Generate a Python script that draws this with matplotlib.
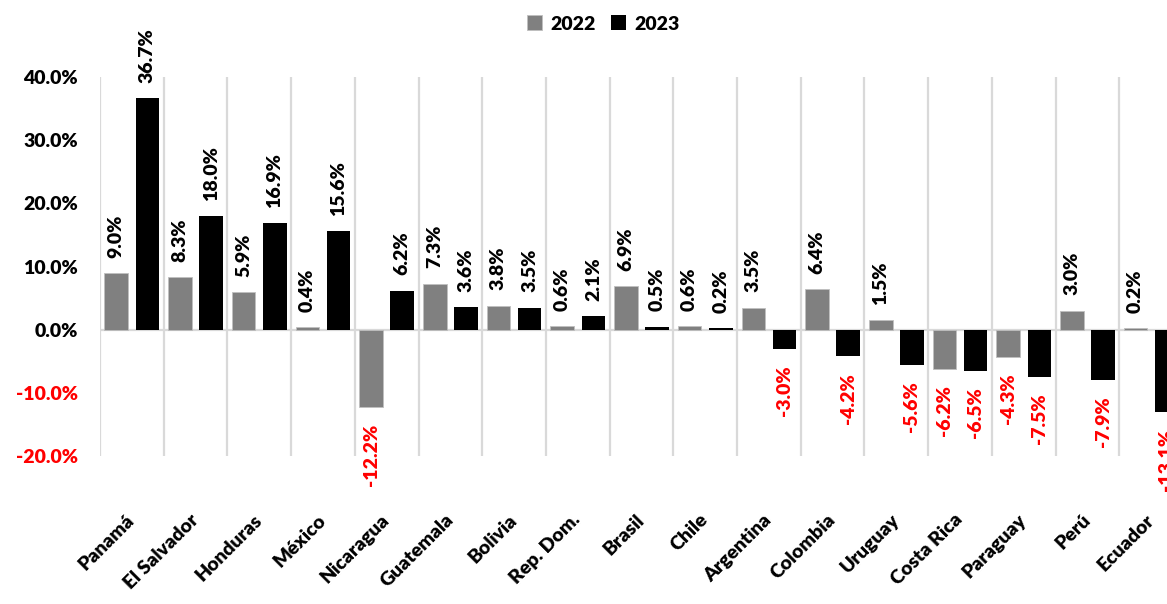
import matplotlib
matplotlib.use("Agg")
import matplotlib.pyplot as plt
import numpy as np
from matplotlib.ticker import FuncFormatter, FixedLocator

countries = ["Panamá", "El Salvador", "Honduras", "México", "Nicaragua", "Guatemala",
             "Bolivia", "Rep. Dom.", "Brasil", "Chile", "Argentina", "Colombia",
             "Uruguay", "Costa Rica", "Paraguay", "Perú", "Ecuador"]
v2022 = [9.0, 8.3, 5.9, 0.4, -12.2, 7.3, 3.8, 0.6, 6.9, 0.6, 3.5, 6.4, 1.5, -6.2, -4.3, 3.0, 0.2]
v2023 = [36.7, 18.0, 16.9, 15.6, 6.2, 3.6, 3.5, 2.1, 0.5, 0.2, -3.0, -4.2, -5.6, -6.5, -7.5, -7.9, -13.1]
series_names = ["2022", "2023"]
yticks = [-20, -10, 0, 10, 20, 30, 40]

plt.rcParams['font.family'] = ['Lato', 'DejaVu Sans']
W_BOLD = "heavy"
FS = 14

W, H = 1167, 604
fig = plt.figure(figsize=(W / 100, H / 100), dpi=100)
ax = fig.add_axes([100 / W, (H - 456) / H, 1083 / W, (456 - 77) / H])

x = np.arange(len(countries))
bw = 0.37
off = 0.245
grey = "#808080"
black = "#000000"
red = "#ff0000"

b1 = ax.bar(x - off, v2022, bw, color=grey, edgecolor="#bfbfbf", linewidth=0.6, label=series_names[0], zorder=3)
b2 = ax.bar(x + off, v2023, bw, color=black, label=series_names[1], zorder=3)

ax.set_xlim(-0.5, len(countries) - 0.5)
ax.set_ylim(-20, 40)

for bars, vals in ((b1, v2022), (b2, v2023)):
    for rect, v in zip(bars, vals):
        cx = rect.get_x() + rect.get_width() / 2
        if v >= 0:
            ax.annotate(f"{v:.1f}%", (cx, v), xytext=(0, 11), textcoords="offset points",
                        rotation=90, ha="center", va="bottom", fontsize=FS,
                        fontweight=W_BOLD, color="black", annotation_clip=False)
        else:
            ax.annotate(f"{v:.1f}%", (cx, v), xytext=(0, -12), textcoords="offset points",
                        rotation=90, ha="center", va="top", fontsize=FS,
                        fontweight=W_BOLD, color=red, annotation_clip=False)

# category separators
for b in np.arange(-0.5, len(countries) + 0.5, 1.0):
    ax.axvline(b, color="#d9d9d9", linewidth=1.6, zorder=1)
ax.axhline(0, color="#d9d9d9", linewidth=1.6, zorder=2)

for s in ax.spines.values():
    s.set_visible(False)

ax.yaxis.set_major_locator(FixedLocator(yticks))
ax.yaxis.set_major_formatter(FuncFormatter(lambda v, p: f"{v:.1f}%"))
ax.tick_params(axis="y", length=0, pad=16, labelsize=FS)
for lbl, t in zip(ax.get_yticklabels(), yticks):
    lbl.set_fontweight(W_BOLD)
    lbl.set_color(red if t < 0 else "black")

ax.set_xticks(x)
ax.set_xticklabels(countries, rotation=45, ha="right", va="center",
                   rotation_mode="anchor", fontsize=FS, fontweight=W_BOLD)
ax.tick_params(axis="x", length=0, pad=44)

leg = fig.legend(handles=[b1, b2], labels=series_names, loc="center",
                 bbox_to_anchor=(603 / W, 1 - 24 / H), ncol=2, frameon=False,
                 fontsize=FS, handlelength=0.8, handleheight=0.8,
                 handletextpad=0.4, columnspacing=0.8)
for t in leg.get_texts():
    t.set_fontweight(W_BOLD)

fig.savefig("out.png", dpi=100)
